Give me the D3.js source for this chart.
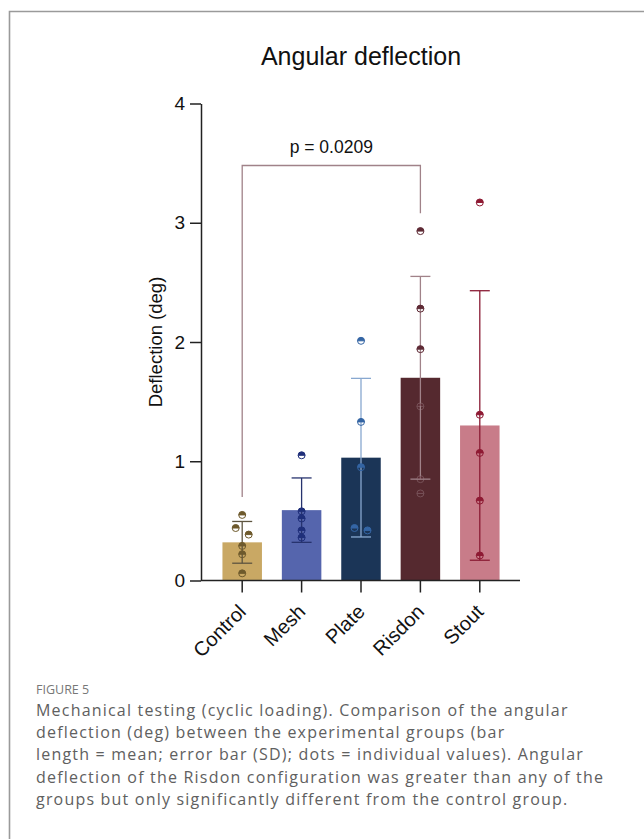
<!DOCTYPE html>
<html>
<head>
<meta charset="utf-8">
<script src="https://cdn.jsdelivr.net/npm/d3@7"></script>
<style>
  html, body { margin: 0; padding: 0; background: #fff; }
  svg { display: block; }
</style>
</head>
<body>
<svg id="fig" width="644" height="839"></svg>
<script>
// ---- data ----
const groups = ["Control", "Mesh", "Plate", "Risdon", "Stout"];
const means = [0.32, 0.59, 1.03, 1.70, 1.30];
const sds = [0.175, 0.27, 0.665, 0.85, 1.13];
const controlValues = [0.55, 0.44, 0.385, 0.29, 0.22, 0.06];
const meshValues = [1.05, 0.58, 0.52, 0.42, 0.36];
const plateValues = [2.01, 1.33, 0.95, 0.44, 0.42];
const risdonValues = [2.93, 2.28, 1.94, 1.46, 0.85, 0.73];
const stoutValues = [3.17, 1.39, 1.07, 0.67, 0.21];
const yTicks = [0, 1, 2, 3, 4];
const comparisonGroups = ["Control", "Risdon"];
const comparisonLabel = "p = 0.0209";
const comparisonLevels = { top: 3.48, fromEnd: 0.70, toEnd: 3.08 };
const titleText = "Angular deflection";
const yLabel = "Deflection (deg)";
const figureLabel = "FIGURE 5";
const captionLines = [
  "Mechanical testing (cyclic loading). Comparison of the angular",
  "deflection (deg) between the experimental groups (bar",
  "length = mean; error bar (SD); dots = individual values). Angular",
  "deflection of the Risdon configuration was greater than any of the",
  "groups but only significantly different from the control group."
];

// ---- styles ----
const barColors = ["#c9a864", "#5565ad", "#1b3557", "#55292f", "#c87c89"];
const dotColors = ["#6e5a2c", "#1f2f7a", "#3465a4", "#5e2a35", "#8e1a33"];
const errColors = ["#5e5540", "#27336e", "#88a8d0", "#a08289", "#8a1c34"];
const bracketColor = "#a08289";
const axisColor = "#222";
const chartFont = "'Liberation Sans', Arial, Helvetica, sans-serif";
const captionFont = "'Open Sans', Lato, sans-serif";

const individual = [controlValues, meshValues, plateValues, risdonValues, stoutValues];
const rows = groups.map((g, i) => ({ group: g, mean: means[i], sd: sds[i], values: individual[i], i }));

const svg = d3.select("#fig");

// figure frame (top and left rules)
svg.append("path")
  .attr("d", "M9.5,839 L9.5,11.5 L644,11.5")
  .attr("fill", "none").attr("stroke", "#9a9a9a").attr("stroke-width", 1.6);

// ---- scales ----
const y = d3.scaleLinear().domain([0, 4]).range([580.5, 103.5]);
const x = d3.scaleBand().domain(groups).range([212.5, 509.5])
  .paddingInner(0.335).paddingOuter(0.1675);
const cx = g => x(g) + x.bandwidth() / 2;
const axisX = 201;
const axisRight = 520;

// title
svg.append("text")
  .attr("x", 361).attr("y", 65)
  .attr("text-anchor", "middle")
  .style("font-family", chartFont).style("font-size", "25px").attr("fill", "#111")
  .text(titleText);

// ---- y axis ----
const yAxis = svg.append("g")
  .attr("transform", `translate(${axisX},0)`)
  .call(d3.axisLeft(y).tickValues(yTicks).tickFormat(d3.format("d")).tickSize(11).tickSizeOuter(0).tickPadding(5));
yAxis.selectAll("path, line").attr("stroke", axisColor).attr("stroke-width", 1.5);
yAxis.selectAll("text").style("font-family", chartFont).style("font-size", "19px").attr("fill", "#111");

svg.append("text")
  .attr("transform", `translate(162,${(y(0) + y(4)) / 2}) rotate(-90)`)
  .attr("text-anchor", "middle")
  .style("font-family", chartFont).style("font-size", "18.5px").attr("fill", "#111")
  .text(yLabel);

// ---- bars ----
svg.append("g").selectAll("rect").data(rows).join("rect")
  .attr("x", d => x(d.group)).attr("width", x.bandwidth())
  .attr("y", d => y(d.mean)).attr("height", d => y(0) - y(d.mean))
  .attr("fill", d => barColors[d.i]);

// ---- x axis ----
const xAxis = svg.append("g")
  .attr("transform", `translate(0,${y(0)})`)
  .call(d3.axisBottom(x).tickSize(12).tickSizeOuter(0));
xAxis.select(".domain").remove();
xAxis.append("line").attr("x1", axisX).attr("x2", axisRight).attr("y1", 0).attr("y2", 0);
xAxis.selectAll("line").attr("stroke", axisColor).attr("stroke-width", 1.5);
xAxis.selectAll(".tick text")
  .attr("text-anchor", "end")
  .attr("x", 0).attr("y", 0).attr("dy", 0)
  .attr("transform", "translate(5,32.5) rotate(-45)")
  .style("font-family", chartFont).style("font-size", "20px").attr("fill", "#111");

// ---- error bars (mean ± SD) ----
const capHalf = 10;
const eb = svg.append("g").selectAll("g").data(rows).join("g")
  .attr("stroke", d => errColors[d.i]).attr("stroke-width", 1.3).attr("fill", "none");
eb.append("line")
  .attr("x1", d => cx(d.group)).attr("x2", d => cx(d.group))
  .attr("y1", d => y(d.mean - d.sd)).attr("y2", d => y(d.mean + d.sd));
eb.append("line")
  .attr("x1", d => cx(d.group) - capHalf).attr("x2", d => cx(d.group) + capHalf)
  .attr("y1", d => y(d.mean + d.sd)).attr("y2", d => y(d.mean + d.sd));
eb.append("line")
  .attr("x1", d => cx(d.group) - capHalf).attr("x2", d => cx(d.group) + capHalf)
  .attr("y1", d => y(d.mean - d.sd)).attr("y2", d => y(d.mean - d.sd));

// ---- individual values (half-filled circles, nudged sideways when they collide) ----
const r = 3.5;
const nudge = 6.5;
const dots = [];
rows.forEach(row => {
  const sorted = row.values.slice().sort((a, b) => b - a);
  let prevY = null, prevShift = 0;
  sorted.forEach(v => {
    const py = y(v);
    if (prevY !== null && Math.abs(py - prevY) < 7 && prevShift === 0) {
      dots[dots.length - 1].dx = -nudge;
      dots.push({ i: row.i, cx: cx(row.group), cy: py, dx: nudge, inBar: v < row.mean });
      prevShift = 1;
    } else {
      dots.push({ i: row.i, cx: cx(row.group), cy: py, dx: 0, inBar: v < row.mean });
      prevShift = 0;
    }
    prevY = py;
  });
});
const dg = svg.append("g").selectAll("g").data(dots).join("g")
  .attr("transform", d => `translate(${d.cx + d.dx},${d.cy})`)
  .attr("opacity", d => (d.inBar && d.i === 3) ? 0.45 : 1);
dg.append("path")
  .attr("d", `M${-r},0 A${r},${r} 0 0 1 ${r},0 Z`)
  .attr("fill", d => dotColors[d.i]);
dg.append("circle").attr("r", r)
  .attr("fill", "none").attr("stroke", d => (d.inBar && d.i === 3) ? "#a08289" : dotColors[d.i]).attr("stroke-width", 1);
dg.append("line").attr("x1", -r).attr("x2", r)
  .attr("stroke", d => (d.inBar && d.i === 3) ? "#a08289" : dotColors[d.i]).attr("stroke-width", 1);

// ---- significance bracket ----
const bx1 = cx(comparisonGroups[0]), bx2 = cx(comparisonGroups[1]);
svg.append("path")
  .attr("d", `M${bx1},${y(comparisonLevels.fromEnd)} L${bx1},${y(comparisonLevels.top)} L${bx2},${y(comparisonLevels.top)} L${bx2},${y(comparisonLevels.toEnd)}`)
  .attr("fill", "none").attr("stroke", bracketColor).attr("stroke-width", 1.3);
svg.append("text")
  .attr("x", (bx1 + bx2) / 2).attr("y", y(comparisonLevels.top) - 13)
  .attr("text-anchor", "middle")
  .style("font-family", chartFont).style("font-size", "17.5px").attr("fill", "#111")
  .text(comparisonLabel);

// ---- caption ----
svg.append("text")
  .attr("x", 36).attr("y", 694)
  .style("font-family", captionFont).style("font-size", "12.5px").attr("fill", "#777")
  .text(figureLabel);
const cap = svg.append("g")
  .style("font-family", captionFont).style("font-size", "16px").attr("fill", "#606060");
const capText = cap.selectAll("text").data(captionLines).join("text")
  .attr("x", 36).attr("y", (d, k) => 716 + k * 22.2)
  .text(d => d);
// open up the tracking so the longest line spans the text column (36 → 603)
const widestNode = capText.nodes().reduce((a, b) => (b.getComputedTextLength() > a.getComputedTextLength() ? b : a));
const extra = (567 - widestNode.getComputedTextLength()) / (widestNode.textContent.length - 1);
capText.style("letter-spacing", `${Math.max(0, extra)}px`);
</script>
</body>
</html>
